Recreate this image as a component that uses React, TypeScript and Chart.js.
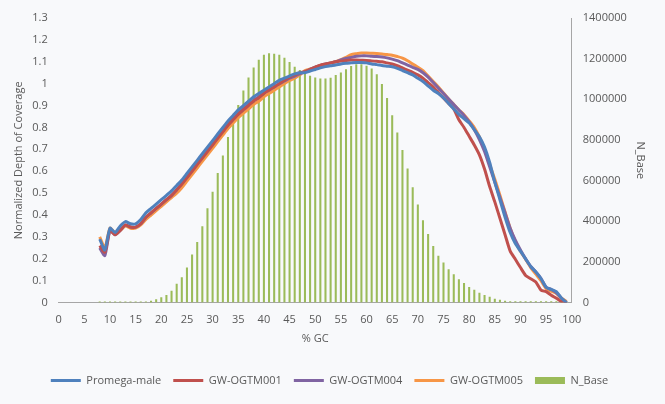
import React, { useEffect, useRef } from "react";
import { Chart, registerables } from "chart.js";
Chart.register(...registerables);

const gc: number[] = Array.from({ length: 101 }, (_, i) => i);

// N_Base from GC 8..99
const nBaseStart = 8;
const nBase = [
  5000, 5000, 5000, 5000, 5000, 5000, 5000, 5000, 5000, 5000,
  9000, 16000, 26000, 37000, 58000, 93000, 125000, 173000, 237000, 298000,
  375000, 464000, 545000, 638000, 723000, 815000, 898000, 972000, 1043000, 1107000,
  1157000, 1195000, 1219000, 1227000, 1224000, 1219000, 1204000, 1184000, 1160000, 1144000,
  1128000, 1116000, 1107000, 1103000, 1103000, 1106000, 1120000, 1132000, 1148000, 1164000,
  1172000, 1172000, 1165000, 1152000, 1123000, 1075000, 1007000, 922000, 837000, 751000,
  660000, 568000, 482000, 405000, 337000, 279000, 231000, 197000, 164000, 140000,
  115000, 96000, 77000, 63000, 48000, 38000, 29000, 19000, 14000, 9000,
  6500, 6500, 6500, 6500, 6500, 6500, 6500, 6500, 6500, 6500, 5000, 4000,
];

// coverage lines from GC 8..99
const lineStart = 8;
const promega = [
  0.29, 0.24, 0.34, 0.32, 0.35, 0.37, 0.36, 0.36, 0.38, 0.41, 0.43, 0.45, 0.47, 0.49, 0.51, 0.535, 0.56, 0.59, 0.62, 0.65,
  0.68, 0.71, 0.74, 0.77, 0.80, 0.83, 0.855, 0.88, 0.90, 0.92, 0.94, 0.955, 0.97, 0.985, 1.0, 1.015, 1.025, 1.035, 1.045, 1.05,
  1.05, 1.058, 1.065, 1.072, 1.078, 1.082,
  1.085, 1.09, 1.093, 1.095, 1.097, 1.097, 1.095, 1.09, 1.087, 1.083, 1.08, 1.077, 1.07, 1.06, 1.05, 1.04, 1.025, 1.01, 0.99, 0.97,
  0.955, 0.935, 0.91, 0.885, 0.86, 0.84, 0.82, 0.79, 0.757, 0.71, 0.64, 0.55, 0.47, 0.39, 0.32, 0.27, 0.235, 0.2, 0.165, 0.14,
  0.11, 0.07, 0.06, 0.05, 0.02, 0.0,
];
const gw001 = [
  0.26, 0.23, 0.33, 0.31, 0.33, 0.355, 0.345, 0.345, 0.36, 0.39, 0.41, 0.43, 0.45, 0.47, 0.49, 0.515, 0.54, 0.57, 0.60, 0.63,
  0.66, 0.69, 0.72, 0.75, 0.78, 0.81, 0.835, 0.86, 0.88, 0.90, 0.92, 0.935, 0.955, 0.97, 0.985, 1.0, 1.015, 1.03, 1.04, 1.05,
  1.055, 1.065, 1.075, 1.085, 1.09, 1.095,
  1.1, 1.103, 1.106, 1.108, 1.108, 1.107, 1.106, 1.104, 1.102, 1.1, 1.095, 1.09, 1.082, 1.072, 1.062, 1.052, 1.04, 1.025, 1.005, 0.985,
  0.96, 0.935, 0.91, 0.885, 0.835, 0.8, 0.76, 0.72, 0.675, 0.61, 0.53, 0.46, 0.385, 0.31, 0.235, 0.198, 0.16, 0.124, 0.109, 0.094,
  0.057, 0.05, 0.034, 0.02, 0.005, 0.0,
];
const gw004 = [
  0.25, 0.215, 0.33, 0.31, 0.33, 0.355, 0.345, 0.345, 0.36, 0.39, 0.41, 0.43, 0.45, 0.47, 0.49, 0.515, 0.545, 0.575, 0.605, 0.635,
  0.665, 0.695, 0.725, 0.755, 0.785, 0.815, 0.84, 0.865, 0.885, 0.905, 0.925, 0.94, 0.957, 0.972, 0.985, 1.0, 1.012, 1.025, 1.035, 1.045,
  1.055, 1.065, 1.075, 1.083, 1.09, 1.095,
  1.1, 1.108, 1.115, 1.12, 1.125, 1.127, 1.127, 1.125, 1.124, 1.122, 1.118, 1.112, 1.105, 1.095, 1.085, 1.075, 1.065, 1.05, 1.03, 1.005,
  0.98, 0.955, 0.93, 0.905, 0.88, 0.855, 0.825, 0.79, 0.745, 0.69, 0.62, 0.55, 0.48, 0.41, 0.34, 0.285, 0.24, 0.2, 0.165, 0.14,
  0.11, 0.07, 0.06, 0.045, 0.02, 0.0,
];
const gw005 = [
  0.30, 0.25, 0.34, 0.32, 0.33, 0.35, 0.34, 0.34, 0.355, 0.38, 0.40, 0.42, 0.44, 0.46, 0.48, 0.50, 0.525, 0.555, 0.585, 0.615,
  0.645, 0.675, 0.705, 0.735, 0.765, 0.795, 0.82, 0.845, 0.865, 0.885, 0.905, 0.92, 0.94, 0.955, 0.97, 0.985, 1.0, 1.015, 1.025, 1.04,
  1.06, 1.067, 1.075, 1.082, 1.088, 1.095,
  1.1, 1.11, 1.12, 1.133, 1.137, 1.14, 1.14, 1.139, 1.138, 1.136, 1.133, 1.13, 1.124, 1.117, 1.105, 1.09, 1.075, 1.06, 1.035, 1.01,
  0.985, 0.958, 0.93, 0.905, 0.88, 0.858, 0.83, 0.8, 0.757, 0.7, 0.63, 0.563, 0.49, 0.414, 0.34, 0.28, 0.235, 0.198, 0.16, 0.13,
  0.1, 0.064, 0.052, 0.042, 0.02, 0.005,
];

const pad = (arr: number[], start: number) =>
  gc.map((g) => (g >= start && g - start < arr.length ? arr[g - start] : null));

export default function App() {
  const ref = useRef<HTMLCanvasElement>(null);
  useEffect(() => {
    const txt = "#595959";
    const font = { family: "'Open Sans', 'Liberation Sans', sans-serif", size: 11 };
    const lineDs = (label: string, data: number[], color: string) => ({
      type: "line" as const,
      label,
      data: pad(data, lineStart),
      borderColor: color,
      backgroundColor: color,
      borderWidth: 3,
      pointRadius: 0,
      pointStyle: "line",
      tension: 0.2,
      yAxisID: "y",
      order: 0,
    });
    const chart = new Chart(ref.current!, {
      type: "bar",
      data: {
        labels: gc.map(String),
        datasets: [
          {
            type: "bar",
            label: "N_Base",
            data: pad(nBase, nBaseStart),
            backgroundColor: "#9BBB59",
            borderColor: "#9BBB59",
            pointStyle: "rect",
            barPercentage: 0.4,
            categoryPercentage: 1,
            yAxisID: "y1",
            order: 5,
          },
          lineDs("Promega-male", promega, "#4F81BD"),
          lineDs("GW-OGTM001", gw001, "#C0504D"),
          lineDs("GW-OGTM004", gw004, "#8064A2"),
          lineDs("GW-OGTM005", gw005, "#F79646"),
        ] as any,
      },
      options: {
        animation: false,
        responsive: false,
        layout: { padding: { left: 8, right: 14, top: 18, bottom: 8 } },
        plugins: {
          legend: {
            position: "bottom",
            labels: {
              color: txt,
              font,
              usePointStyle: true,
              pointStyleWidth: 30,
              boxHeight: 7,
              padding: 12,
            },
          },
          tooltip: { enabled: false },
        },
        scales: {
          x: {
            offset: false,
            grid: { display: false },
            border: { color: "#a6a6a6" },
            ticks: {
              color: txt,
              font,
              autoSkip: false,
              maxRotation: 0,
              callback: (v: any, i: number) => (i % 5 === 0 ? String(i) : null),
            },
            title: { display: true, text: "% GC", color: txt, font, padding: { top: 2, bottom: 18 } },
          },
          y: {
            position: "left",
            min: 0,
            max: 1.3,
            grid: { display: false },
            border: { display: false },
            ticks: { stepSize: 0.1, color: txt, font, callback: (v: any) => String(Math.round(Number(v) * 10) / 10) },
            title: { display: true, text: "Normalized Depth of Coverage", color: txt, font },
          },
          y1: {
            position: "right",
            min: 0,
            max: 1400000,
            grid: { display: false },
            border: { color: "#a6a6a6" },
            ticks: { stepSize: 200000, color: txt, font, callback: (v: any) => String(v) },
            title: { display: true, text: "N_Base", color: txt, font },
          },
        },
      },
    });
    return () => chart.destroy();
  }, []);
  return (
    <div style={{ position: "absolute", left: 0, top: 0, width: 665, height: 404, background: "#F8F9FB" }}>
      <canvas ref={ref} width={665} height={404} />
    </div>
  );
}
